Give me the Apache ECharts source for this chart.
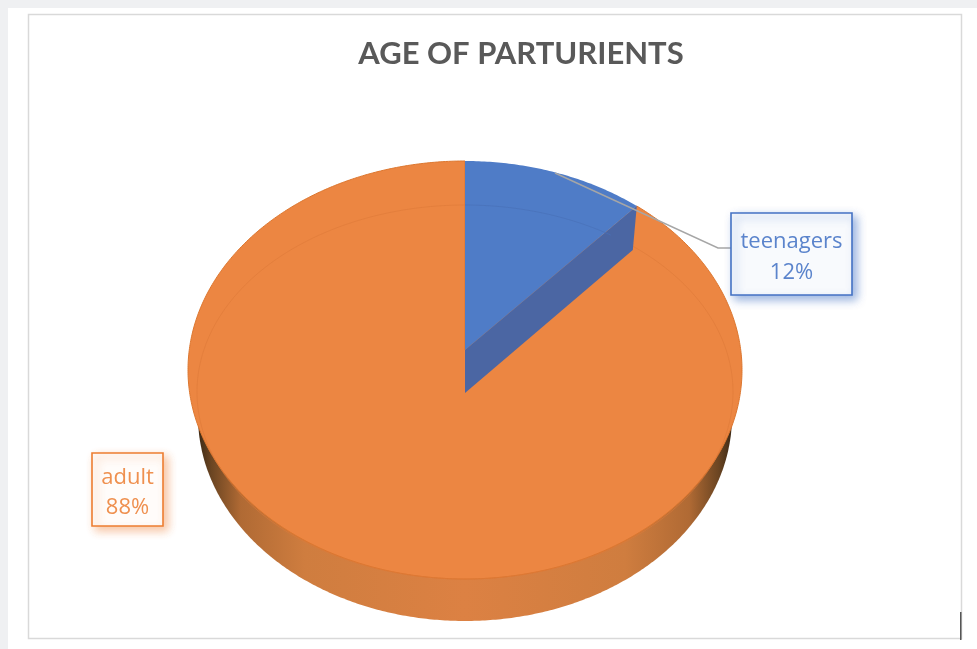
<!DOCTYPE html>
<html><head><meta charset="utf-8">
<style>html,body{margin:0;padding:0;background:#fff}#c{width:977px;height:649px}</style>
<script src="https://cdn.jsdelivr.net/npm/echarts@6/dist/echarts.min.js"></script>
</head><body><div id="c"></div>
<script>
const chartTitle = 'AGE OF PARTURIENTS';
const categories = ['teenagers', 'adult'];
const shares = [12, 88];
const sliceColors = ['#4f7cc7', '#ec8642'];

// 3D view of the pie (pixels on the page)
const top3d = {cx: 465, cy: 370, rx: 277, ry: 209};
const base3d = {cx: 465, cy: 416, rx: 267, ry: 205};
const inner3d = {cx: 465, cy: 392, rx: 268, ry: 187};
const apex = {x: 465, y: 350};
const wallDepth = 43;
const foreshorten = 0.842;
const labelBoxes = [
  {x: 731, y: 213, w: 121, h: 82, border: '#4472c4', fill: '#f8fafd', text: '#5b84cc', shadow: 'rgba(68,114,196,0.55)'},
  {x: 92, y: 453, w: 71, h: 73, border: '#ed7d31', fill: '#fffcfa', text: '#ef904f', shadow: 'rgba(237,125,49,0.45)'}
];

const total = shares.reduce((a, b) => a + b, 0);
const frac2t = f => {
  const a = f * 2 * Math.PI;
  let t = Math.atan2(Math.sin(a) * foreshorten, Math.cos(a));
  if (t < 0) t += 2 * Math.PI;
  return f >= 1 ? 2 * Math.PI : t;
};
const pt = (e, t) => [e.cx + e.rx * Math.sin(t), e.cy - e.ry * Math.cos(t)];
const arc = (e, t0, t1) => {
  const out = [], n = Math.max(8, Math.ceil((t1 - t0) / 0.01));
  for (let i = 0; i <= n; i++) out.push(pt(e, t0 + (t1 - t0) * i / n));
  return out;
};
const shapeEl = (type, shape, style, z2) => ({type, shape, style, z2, silent: true});

function renderItem(params, api) {
  const i = params.dataIndex;
  const before = shares.slice(0, i).reduce((a, b) => a + b, 0);
  const t0 = frac2t(before / total), t1 = frac2t((before + api.value(0)) / total);
  const kids = [];
  const apexPt = [apex.x, apex.y];
  if (i === 1) {
    kids.push(shapeEl('polygon', {points: arc(base3d, 0, 2 * Math.PI)}, {
      fill: new echarts.graphic.LinearGradient(0, 0, 1, 0, [
        {offset: 0, color: '#3d2a16'}, {offset: 0.025, color: '#6b4522'},
        {offset: 0.08, color: '#b06a34'}, {offset: 0.2, color: '#cf7d3f'},
        {offset: 0.5, color: '#dc8143'}, {offset: 0.8, color: '#cf7d3f'},
        {offset: 0.92, color: '#b06a34'}, {offset: 0.975, color: '#6b4522'},
        {offset: 1, color: '#3d2a16'}])
    }, 1));
    kids.push(shapeEl('polygon', {points: [apexPt].concat(arc(top3d, t0, t1))},
      {fill: sliceColors[i], stroke: '#dd772f', lineWidth: 1}, 2));
    kids.push(shapeEl('polyline', {points: arc(inner3d, 0, 2 * Math.PI)},
      {fill: 'none', stroke: 'rgba(221,122,56,0.6)', lineWidth: 1}, 3));
  } else {
    const end = pt(top3d, t1);
    const endLow = [end[0] - 4, end[1] + wallDepth + 1];
    kids.push(shapeEl('polygon', {points: [apexPt, end, endLow, [apex.x, apex.y + wallDepth]]},
      {fill: '#4b66a3'}, 5));
    kids.push(shapeEl('polygon', {points: [apexPt].concat(arc(top3d, t0, t1))},
      {fill: sliceColors[i]}, 6));
    kids.push(shapeEl('polyline', {points: arc(inner3d, t0, t1 * 0.86)},
      {fill: 'none', stroke: 'rgba(72,112,184,0.7)', lineWidth: 1}, 7));
    kids.push(shapeEl('polyline', {points: [[555, 173], [718, 248], [731, 248]]},
      {fill: 'none', stroke: '#a6a6a6', lineWidth: 1.4}, 8));
  }
  const b = labelBoxes[i];
  kids.push(shapeEl('rect', {x: b.x, y: b.y, width: b.w, height: b.h},
    {fill: b.fill, stroke: b.border, lineWidth: 1.6, shadowBlur: 9, shadowOffsetX: 4, shadowOffsetY: 4, shadowColor: b.shadow}, 10));
  kids.push({type: 'text', silent: true, z2: 11, style: {
    x: b.x + b.w / 2, y: b.y + b.h / 2 + 3, text: categories[i] + '\n' + Math.round(api.value(0) / total * 100) + '%',
    align: 'center', verticalAlign: 'middle', fill: b.text, lineHeight: 30.5,
    font: '500 22px "Open Sans", sans-serif'
  }});
  return {type: 'group', children: kids};
}

const chart = echarts.init(document.getElementById('c'), null, {renderer: 'canvas'});
chart.setOption({
  animation: false,
  backgroundColor: '#fff',
  title: {
    text: chartTitle, left: 516, top: 33, textAlign: 'center',
    textStyle: {color: '#595959', fontSize: 31, fontWeight: 'bold', fontFamily: 'Lato, "Open Sans", sans-serif'}
  },
  graphic: [
    {type: 'rect', silent: true, z: -10, shape: {x: 0, y: 0, width: 977, height: 8}, style: {fill: '#eff0f2'}},
    {type: 'rect', silent: true, z: -10, shape: {x: 0, y: 0, width: 8, height: 649}, style: {fill: '#eff0f2'}},
    {type: 'rect', silent: true, z: -9, shape: {x: 28.5, y: 14.5, width: 933, height: 624}, style: {fill: '#fff', stroke: '#d9d9d9', lineWidth: 1.5}},
    {type: 'rect', silent: true, z: -8, shape: {x: 960, y: 612, width: 1.5, height: 28}, style: {fill: '#555'}}
  ],
  series: [{
    type: 'custom', coordinateSystem: 'none', renderItem,
    data: categories.map((name, i) => ({name, value: [shares[i]]}))
  }]
});
</script></body></html>
